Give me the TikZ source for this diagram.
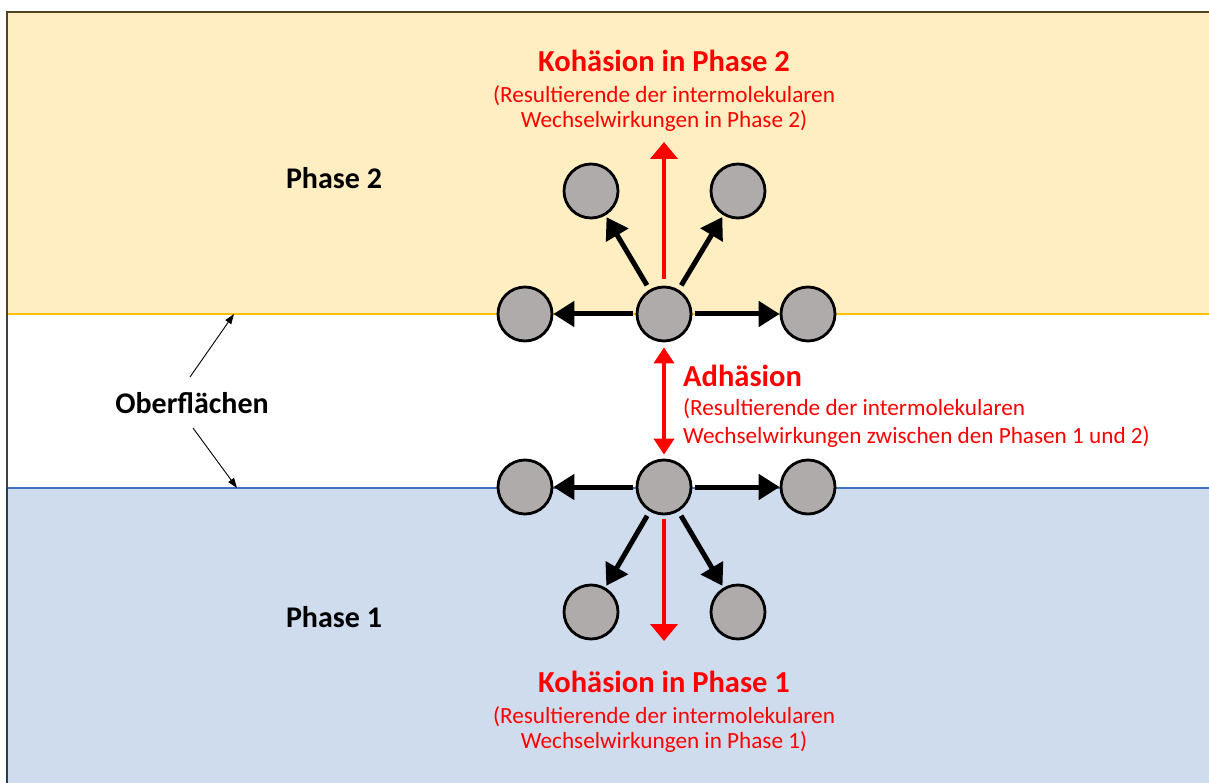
\documentclass[tikz,border=0pt]{standalone}
\usepackage{fontspec}
\setmainfont{Carlito}
\usetikzlibrary{arrows.meta}
\definecolor{ylwfill}{HTML}{FEEEC1}
\definecolor{ylwline}{HTML}{FFC000}
\definecolor{blufill}{HTML}{CFDCEE}
\definecolor{bluline}{HTML}{4472C4}
\definecolor{molgray}{HTML}{AFABAB}
\definecolor{brd1}{HTML}{4F4322}
\definecolor{brd2}{HTML}{404040}
\definecolor{brd3}{HTML}{2F3B4F}
\definecolor{kred}{HTML}{FF0000}
\tikzset{
  mol/.style={circle, draw=black, line width=2.8pt, fill=molgray, minimum size=54pt, inner sep=0pt},
  blkarrow/.style={line width=5pt, -{Triangle[length=21pt,width=25pt]}},
  redarrow/.style={draw=kred, line width=4.5pt, -{Triangle[length=17pt,width=27pt]}},
  adharrow/.style={draw=kred, line width=4pt, {Triangle[length=16pt,width=20pt]}-{Triangle[length=16pt,width=20pt]}},
  thinarrow/.style={line width=0.9pt, -{Triangle[length=10pt,width=7pt]}},
  boldtitle/.style={text=kred, font=\fontsize{30.5}{36}\selectfont\bfseries, inner sep=0pt},
  subtxt/.style={text=kred, font=\fontsize{23.2}{28}\selectfont, inner sep=0pt},
  phaselbl/.style={font=\fontsize{30}{36}\selectfont\bfseries, inner sep=0pt},
}
\begin{document}
\begin{tikzpicture}[x=1pt,y=-1pt]
\useasboundingbox (0,0) rectangle (1209,783);
% regions
\fill[ylwfill] (7,12) rectangle (1209,314);
\fill[blufill] (7,488) rectangle (1209,783);
\draw[ylwline, line width=1.5pt] (7,314) -- (1209,314);
\draw[bluline, line width=1.5pt] (7,488) -- (1209,488);
\draw[brd1, line width=2pt] (7,783) -- (7,12) -- (1209,12);
\draw[brd2, line width=2pt] (7,314) -- (7,488);
\draw[brd3, line width=2pt] (7,488) -- (7,783);

% molecules phase 2 side
\node[mol] (c2) at (664,314) {};
\node[mol] (l2) at (525,314) {};
\node[mol] (r2) at (808,314) {};
\node[mol] (ul2) at (591,191) {};
\node[mol] (ur2) at (738,191) {};
% molecules phase 1 side
\node[mol] (c1) at (664,487) {};
\node[mol] (l1) at (525,487) {};
\node[mol] (r1) at (808,487) {};
\node[mol] (ll1) at (591,612) {};
\node[mol] (lr1) at (738,612) {};

\coordinate (k2tip) at (664,142);
\coordinate (k1tip) at (664,641);

% black arrows
\draw[blkarrow, shorten <=3pt, shorten >=0pt] (c2) -- (l2);
\draw[blkarrow, shorten <=3pt, shorten >=0pt] (c2) -- (r2);
\draw[blkarrow, shorten <=5pt, shorten >=2pt] (c2) -- (ul2);
\draw[blkarrow, shorten <=5pt, shorten >=2pt] (c2) -- (ur2);
\draw[blkarrow, shorten <=3pt, shorten >=0pt] (c1) -- (l1);
\draw[blkarrow, shorten <=3pt, shorten >=0pt] (c1) -- (r1);
\draw[blkarrow, shorten <=5pt, shorten >=2pt] (c1) -- (ll1);
\draw[blkarrow, shorten <=5pt, shorten >=2pt] (c1) -- (lr1);

% red arrows
\draw[redarrow, shorten <=7pt] (c2.north) -- (k2tip);
\draw[redarrow, shorten <=4pt] (c1.south) -- (k1tip);
\draw[adharrow, shorten <=5pt, shorten >=4pt] (c2.south) -- (c1.north);

% texts
\node[boldtitle, anchor=base] (k2) at (664,72) {Kohäsion in Phase 2};
\node[subtxt, anchor=base] (k2a) at (664,103) {(Resultierende der intermolekularen};
\node[subtxt, anchor=base] (k2b) at (664,128) {Wechselwirkungen in Phase 2)};

\node[boldtitle, anchor=base] (k1) at (664,692) {Kohäsion in Phase 1};
\node[subtxt, anchor=base] (k1a) at (664,723) {(Resultierende der intermolekularen};
\node[subtxt, anchor=base] (k1b) at (664,748) {Wechselwirkungen in Phase 1)};

\node[boldtitle, anchor=base west] (ad) at (683,386) {Adhäsion};
\node[subtxt, anchor=base west] (ada) at (683,415) {(Resultierende der intermolekularen};
\node[subtxt, anchor=base west] (adb) at (683,443) {Wechselwirkungen zwischen den Phasen 1 und 2)};

\node[phaselbl, anchor=base] (p2) at (334,189) {Phase 2};
\node[phaselbl, anchor=base] (p1) at (334,627) {Phase 1};
\node[phaselbl, anchor=base] (ober) at (192,413) {Oberflächen};

% Oberflächen arrows
\coordinate (o2s) at (190,377);
\coordinate (o2e) at (234,314);
\coordinate (o1s) at (193,428);
\coordinate (o1e) at (237,488);
\draw[thinarrow] (o2s) -- (o2e);
\draw[thinarrow] (o1s) -- (o1e);
\end{tikzpicture}
\end{document}
